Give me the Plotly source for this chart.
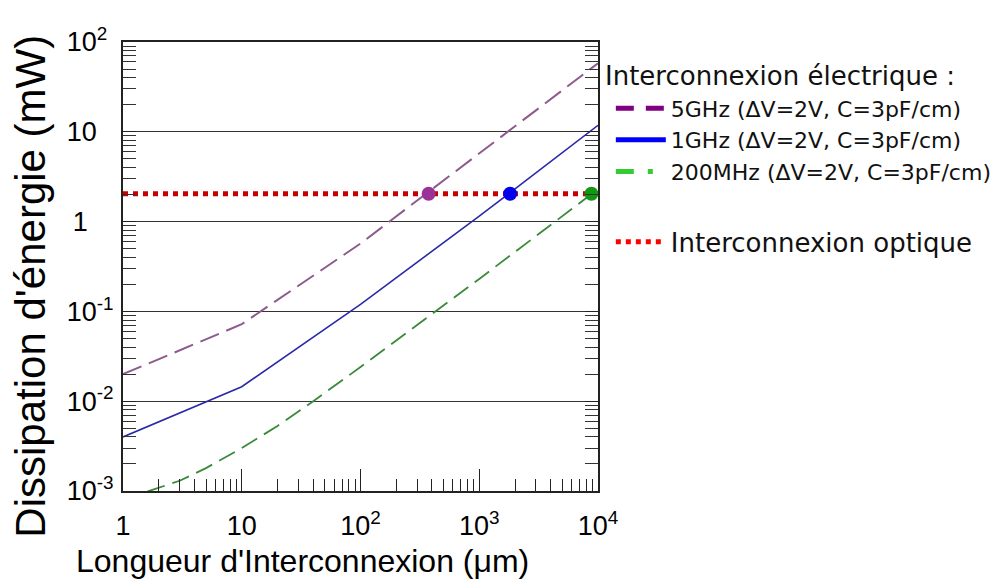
import plotly.graph_objects as go

# ---------------- data ----------------
x_5ghz = [1, 10, 100, 1000, 10000]
y_5ghz = [0.020, 0.072, 0.57, 5.8, 58]

x_1ghz = [1, 10, 100, 1000, 10000]
y_1ghz = [0.0040, 0.0145, 0.120, 1.15, 11.8]

x_200mhz = [1, 2, 3, 5, 10, 20, 40, 100, 1000, 10000]
y_200mhz = [0.0008, 0.00108, 0.0013, 0.0018, 0.0030, 0.0053, 0.0100, 0.024, 0.23, 2.3]

x_optique = [1, 10000]
y_optique = [2.04, 2.04]

cross_x = [375, 1820, 8800]
cross_y = [2.04, 2.04, 2.04]
cross_colors = ["#993399", "#0000EE", "#119911"]

HID = "<span style='color:rgba(0,0,0,0)'>{}</span>"
x_tickvals = [1, 10, 100, 1000, 10000]
x_ticktext = ["1", "10", "10<sup>2</sup>", "10<sup>3</sup>", "10<sup>4</sup>"]
y_tickvals = [0.001, 0.01, 0.1, 1, 10, 100]
y_ticktext = ["10<sup>-3</sup>", "10<sup>-2</sup>", "10<sup>-1</sup>",
              "1<sup>" + HID.format("-11") + "</sup>",
              "10<sup>" + HID.format("-1") + "</sup>",
              "10<sup>2" + HID.format("-") + "</sup>"]

legend_header = "Interconnexion électrique :"
legend_names = ["5GHz (ΔV=2V, C=3pF/cm)", "1GHz (ΔV=2V, C=3pF/cm)",
                "200MHz (ΔV=2V, C=3pF/cm)", "Interconnexion optique"]

fig = go.Figure()

# plotted curves
fig.add_trace(go.Scatter(x=x_5ghz, y=y_5ghz, mode="lines", showlegend=False,
                         line=dict(color="#8E5A8E", width=2, dash="20px,8px")))
fig.add_trace(go.Scatter(x=x_1ghz, y=y_1ghz, mode="lines", showlegend=False,
                         line=dict(color="#2A2AA8", width=1.6)))
fig.add_trace(go.Scatter(x=x_200mhz, y=y_200mhz, mode="lines", showlegend=False,
                         line=dict(color="#3A8A3A", width=1.8, dash="18px,8px")))
fig.add_trace(go.Scatter(x=x_optique, y=y_optique, mode="lines", showlegend=False,
                         line=dict(color="#C80000", width=5, dash="dot")))
fig.add_trace(go.Scatter(x=cross_x, y=cross_y, mode="markers", showlegend=False,
                         cliponaxis=False,
                         marker=dict(color=cross_colors, size=14)))

# legend entries
fig.add_trace(go.Scatter(x=[None], y=[None], mode="lines", name=legend_names[0],
                         legend="legend",
                         line=dict(color="#800080", width=5, dash="18px,12px")))
fig.add_trace(go.Scatter(x=[None], y=[None], mode="lines", name=legend_names[1],
                         legend="legend",
                         line=dict(color="#0000FF", width=5)))
fig.add_trace(go.Scatter(x=[None], y=[None], mode="lines", name=legend_names[2],
                         legend="legend",
                         line=dict(color="#33CC33", width=5, dash="18px,14px,5px,20px")))
fig.add_trace(go.Scatter(x=[None], y=[None], mode="lines", name=legend_names[3],
                         legend="legend2",
                         line=dict(color="#FF0000", width=5, dash="dot")))

LEG_FONT = "DejaVu Sans"
AX_FONT = "Liberation Sans, Arial"

fig.update_layout(
    width=991, height=580,
    margin=dict(l=115, r=401, t=34, b=97, autoexpand=False),
    paper_bgcolor="white", plot_bgcolor="white",
    font=dict(family=AX_FONT, color="black"),
    xaxis=dict(
        type="log", range=[0, 4], automargin=False,
        tickvals=x_tickvals, ticktext=x_ticktext,
        ticks="inside", ticklen=22, tickwidth=1.2, tickcolor="#222",
        minor=dict(ticks="inside", ticklen=12, tickwidth=1.2, tickcolor="#222",
                   dtick="D1", showgrid=False),
        showgrid=False, zeroline=False,
        showline=True, linecolor="#222", linewidth=2, mirror=True,
        tickfont=dict(size=27, color="black", family=AX_FONT),
        ticklabelstandoff=10,
    ),
    yaxis=dict(
        type="log", range=[-3, 2], automargin=False,
        tickvals=y_tickvals, ticktext=y_ticktext,
        ticks="inside", ticklen=13, tickwidth=1.2, tickcolor="#222",
        minor=dict(ticks="inside", ticklen=13, tickwidth=1.2, tickcolor="#333",
                   dtick="D1", showgrid=False),
        showgrid=True, gridcolor="#333", gridwidth=1.2,
        zeroline=False,
        showline=True, linecolor="#222", linewidth=2, mirror="ticks",
        tickfont=dict(size=27, color="black", family=AX_FONT),
        ticklabelstandoff=2,
    ),
    legend=dict(
        x=1.027, y=0.782, xanchor="left", yanchor="middle",
        bgcolor="rgba(0,0,0,0)",
        font=dict(family=LEG_FONT, size=22, color="#111"),
        itemwidth=50,
    ),
    legend2=dict(
        x=1.027, y=0.555, xanchor="left", yanchor="middle",
        bgcolor="rgba(0,0,0,0)",
        font=dict(family=LEG_FONT, size=26, color="#111"),
        itemwidth=50,
    ),
    annotations=[
        dict(text=legend_header, xref="paper", yref="paper",
             x=1.0105, y=0.924, xanchor="left", yanchor="middle", showarrow=False,
             font=dict(family=LEG_FONT, size=26, color="#111")),
        dict(text="Longueur d'Interconnexion (μm)", xref="paper", yref="paper",
             x=0.377, y=-0.156, xanchor="center", yanchor="middle", showarrow=False,
             font=dict(size=32, color="black", family=AX_FONT)),
        dict(text="Dissipation d'énergie (mW)", xref="paper", yref="paper",
             x=-0.194, y=0.457, xanchor="center", yanchor="middle", showarrow=False,
             textangle=-90,
             font=dict(size=42, color="black", family=AX_FONT)),
    ],
)

fig.write_html("out.html")
